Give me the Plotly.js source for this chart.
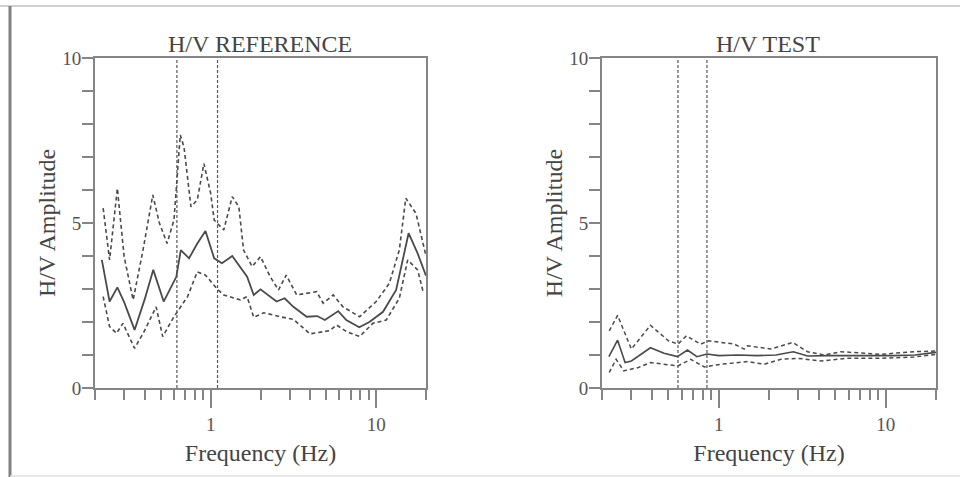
<!DOCTYPE html>
<html>
<head>
<meta charset="utf-8">
<script src="https://cdn.plot.ly/plotly-3.0.1.min.js"></script>
<style>
html,body{margin:0;padding:0;background:#fff;}
#chart{width:960px;height:477px;}
</style>
</head>
<body>
<div id="chart"></div>
<script>
// ---- H/V REFERENCE (left panel) ----
const refMeanFreq = [0.22, 0.245, 0.273, 0.30, 0.347, 0.40, 0.45, 0.52, 0.62, 0.66, 0.74, 0.83, 0.93, 1.05, 1.17, 1.35, 1.66, 1.82, 2.0, 2.5, 2.8, 3.16, 3.8, 4.4, 4.9, 5.9, 6.6, 7.9, 9.1, 11, 13.2, 15.7, 17.8, 20];
const refMeanAmp  = [3.88, 2.62, 3.05, 2.6, 1.76, 2.7, 3.58, 2.62, 3.37, 4.18, 3.93, 4.38, 4.76, 3.93, 3.78, 4.0, 3.37, 2.82, 2.99, 2.62, 2.72, 2.46, 2.16, 2.18, 2.06, 2.33, 2.06, 1.84, 2.0, 2.31, 2.97, 4.69, 4.08, 3.4];

const refUpFreq = [0.224, 0.245, 0.273, 0.30, 0.34, 0.39, 0.447, 0.49, 0.545, 0.60, 0.655, 0.69, 0.76, 0.83, 0.91, 1.0, 1.05, 1.2, 1.35, 1.48, 1.58, 1.78, 2.0, 2.29, 2.57, 2.86, 3.31, 4.37, 4.78, 5.5, 6.3, 7.94, 10, 12, 13.8, 15.1, 17.4, 20];
const refUpAmp  = [5.45, 3.88, 6.05, 3.98, 2.67, 4.18, 5.85, 5.0, 4.38, 5.09, 7.67, 7.3, 5.49, 5.7, 6.8, 5.9, 5.09, 4.79, 5.8, 5.49, 4.18, 3.68, 3.98, 3.37, 2.97, 3.42, 2.82, 2.92, 2.57, 2.82, 2.46, 2.16, 2.62, 3.17, 4.18, 5.75, 5.29, 4.0];

const refLowFreq = [0.224, 0.245, 0.27, 0.295, 0.347, 0.40, 0.468, 0.513, 0.60, 0.725, 0.83, 0.93, 1.1, 1.2, 1.51, 1.66, 1.82, 2.09, 2.63, 3.16, 3.98, 5.25, 5.76, 6.61, 7.94, 9.55, 11.5, 13.8, 15.5, 17.8, 19.1, 20];
const refLowAmp  = [2.77, 1.86, 1.66, 1.96, 1.2, 1.75, 2.46, 1.56, 2.16, 2.77, 3.52, 3.42, 2.99, 2.82, 2.67, 2.77, 2.14, 2.28, 2.16, 2.08, 1.64, 1.74, 1.91, 1.71, 1.56, 1.96, 2.06, 2.72, 3.88, 3.58, 2.97, 3.0];

const refMarkers = [0.625, 1.1];

// ---- H/V TEST (right panel) ----
const testMeanFreq = [0.22, 0.248, 0.275, 0.30, 0.39, 0.47, 0.566, 0.65, 0.74, 0.85, 1.0, 1.3, 1.7, 2.2, 2.8, 3.4, 4.5, 6, 8, 11, 15, 20];
const testMeanAmp  = [0.95, 1.45, 0.77, 0.82, 1.22, 1.05, 0.95, 1.15, 0.95, 1.03, 0.98, 1.0, 0.98, 1.0, 1.1, 0.97, 0.98, 0.97, 0.98, 0.98, 1.0, 1.08];

const testUpFreq = [0.221, 0.248, 0.30, 0.39, 0.50, 0.57, 0.64, 0.78, 0.87, 1.24, 1.42, 1.49, 2.05, 2.77, 3.4, 4.28, 5.4, 6.6, 9.3, 14.8, 20];
const testUpAmp  = [1.73, 2.2, 1.18, 1.9, 1.43, 1.33, 1.58, 1.33, 1.43, 1.33, 1.18, 1.28, 1.18, 1.38, 1.1, 1.0, 1.1, 1.07, 1.02, 1.1, 1.12];

const testLowFreq = [0.221, 0.243, 0.27, 0.33, 0.39, 0.57, 0.68, 0.82, 1.03, 1.49, 1.87, 2.36, 2.97, 4.1, 5.9, 9.3, 14.8, 20];
const testLowAmp  = [0.47, 0.87, 0.52, 0.62, 0.77, 0.67, 0.87, 0.64, 0.72, 0.8, 0.72, 0.87, 0.9, 0.82, 0.9, 0.9, 0.94, 1.02];

const testMarkers = [0.57, 0.85];

// ---- ticks and labels ----
const xMajorVals = [1, 10];
const xMajorText = ['1', '10'];
const xMinorVals = [0.2,0.3,0.4,0.5,0.6,0.7,0.8,0.9,2,3,4,5,6,7,8,9,20];
const yTickVals = [0,1,2,3,4,5,6,7,8,9,10];
const yTickText = yTickVals.map(v => (v % 5 === 0 ? String(v) : ''));
const panelTitles = ['H/V REFERENCE', 'H/V TEST'];
const xTitle = 'Frequency (Hz)';
const yTitle = 'H/V Amplitude';

const FONT = 'Liberation Serif, Times New Roman, serif';
const LINE = '#4a4a4a';
const AX = '#858585';

function curve(x, y, xa, ya, dash, width) {
  return {x: x, y: y, xaxis: xa, yaxis: ya, type: 'scatter', mode: 'lines',
          line: {color: LINE, width: width, dash: dash}, hoverinfo: 'skip', showlegend: false};
}
function vline(f, xa, ya) {
  return {x: [f, f], y: [0, 10], xaxis: xa, yaxis: ya, type: 'scatter', mode: 'lines',
          line: {color: '#555', width: 1.2, dash: '3px,2px'}, hoverinfo: 'skip', showlegend: false};
}

const traces = [
  curve(refUpFreq, refUpAmp, 'x', 'y', '4px,3px', 1.6),
  curve(refLowFreq, refLowAmp, 'x', 'y', '4px,3px', 1.6),
  curve(refMeanFreq, refMeanAmp, 'x', 'y', 'solid', 1.8),
  vline(refMarkers[0], 'x', 'y'), vline(refMarkers[1], 'x', 'y'),
  curve(testUpFreq, testUpAmp, 'x2', 'y2', '4px,3px', 1.5),
  curve(testLowFreq, testLowAmp, 'x2', 'y2', '4px,3px', 1.5),
  curve(testMeanFreq, testMeanAmp, 'x2', 'y2', 'solid', 1.6),
  vline(testMarkers[0], 'x2', 'y2'), vline(testMarkers[1], 'x2', 'y2')
];

function xaxisDef(domain, anchor) {
  return {
    type: 'log', domain: domain, anchor: anchor, range: [Math.log10(0.2), Math.log10(20)],
    tickmode: 'array', tickvals: xMajorVals, ticktext: xMajorText,
    ticks: 'outside', ticklen: 18, tickwidth: 2, tickcolor: AX,
    minor: {tickmode: 'array', tickvals: xMinorVals, ticks: 'outside', ticklen: 10, tickwidth: 2, tickcolor: AX, showgrid: false},
    showline: true, linecolor: AX, linewidth: 2, mirror: true,
    showgrid: false, zeroline: false,
    tickfont: {family: FONT, size: 19, color: '#555'},
    title: {text: xTitle, font: {family: FONT, size: 24, color: '#444'}, standoff: 10}
  };
}
function yaxisDef(domain, anchor) {
  return {
    domain: domain, anchor: anchor, range: [0, 10],
    tickmode: 'array', tickvals: yTickVals, ticktext: yTickText,
    ticks: 'outside', ticklen: 11, tickwidth: 2, tickcolor: AX,
    ticklabelstandoff: -3,
    showline: true, linecolor: AX, linewidth: 2, mirror: true,
    showgrid: false, zeroline: false,
    tickfont: {family: FONT, size: 19, color: '#555'},
    title: {text: yTitle, font: {family: FONT, size: 24, color: '#444'}, standoff: 0}
  };
}

const yDom = [1 - 388/477, 1 - 58/477];
const layout = {
  width: 960, height: 477,
  margin: {l: 0, r: 0, t: 0, b: 0},
  paper_bgcolor: '#fff', plot_bgcolor: '#fff',
  showlegend: false,
  xaxis: xaxisDef([95/960, 426/960], 'y'),
  yaxis: yaxisDef(yDom, 'x'),
  xaxis2: xaxisDef([602/960, 936/960], 'y2'),
  yaxis2: yaxisDef(yDom, 'x2'),
  annotations: [
    {text: panelTitles[0], xref: 'paper', yref: 'paper', x: 260/960, y: 1 - 44/477,
     xanchor: 'center', yanchor: 'middle', showarrow: false,
     font: {family: FONT, size: 24, color: '#444'}},
    {text: panelTitles[1], xref: 'paper', yref: 'paper', x: 768/960, y: 1 - 44/477,
     xanchor: 'center', yanchor: 'middle', showarrow: false,
     font: {family: FONT, size: 24, color: '#444'}}
  ],
  shapes: [
    {type: 'line', xref: 'paper', yref: 'paper', x0: 0, x1: 1, y0: 1 - 6/477, y1: 1 - 6/477,
     line: {color: '#d0d0d0', width: 2}},
    {type: 'line', xref: 'paper', yref: 'paper', x0: 10/960, x1: 10/960, y0: 0, y1: 1 - 6/477,
     line: {color: '#808080', width: 3}},
    {type: 'line', xref: 'paper', yref: 'paper', x0: 10/960, x1: 1, y0: 1/477, y1: 1/477,
     line: {color: '#e0e0e0', width: 1.5}}
  ]
};

Plotly.newPlot('chart', traces, layout, {staticPlot: true, displayModeBar: false});
</script>
</body>
</html>
